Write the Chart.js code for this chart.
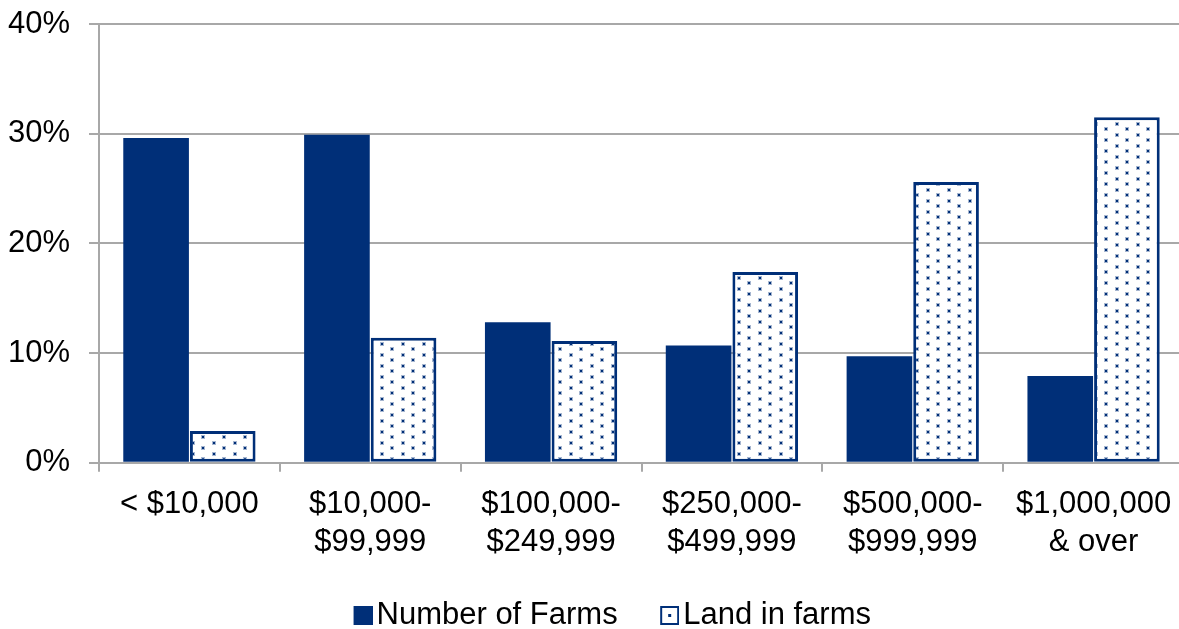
<!DOCTYPE html>
<html>
<head>
<meta charset="utf-8">
<script src="https://cdn.jsdelivr.net/npm/chart.js@4"></script>
<style>
  html, body { margin: 0; padding: 0; background: #fff; overflow: hidden; }
  #wrap { width: 1179px; height: 629px; overflow: hidden; }
  canvas { display: block; }
</style>
</head>
<body>
<div id="wrap"><canvas id="c" width="1184" height="629"></canvas></div>
<script>
const categories = [
  ['< $10,000'],
  ['$10,000-', '$99,999'],
  ['$100,000-', '$249,999'],
  ['$250,000-', '$499,999'],
  ['$500,000-', '$999,999'],
  ['$1,000,000', '& over']
];
const numberOfFarms = [29.6, 29.9, 12.8, 10.7, 9.7, 7.9];
const landInFarms = [2.9, 11.4, 11.1, 17.4, 25.6, 31.5];
const seriesNames = ['Number of Farms', 'Land in farms'];
const yTicks = [0, 10, 20, 30, 40];

const NAVY = '#002f78';
const GRID = '#a8a8a8';
const FONT = '"Liberation Sans", Arial, sans-serif';

function makeDotPattern() {
  const t = document.createElement('canvas');
  t.width = 21; t.height = 11;
  const g = t.getContext('2d');
  g.fillStyle = '#ffffff';
  g.fillRect(0, 0, 21, 11);
  g.fillStyle = 'rgba(0,47,120,0.35)';
  g.fillRect(2, 1, 4, 4);
  g.fillRect(12, 6, 4, 4);
  g.fillStyle = NAVY;
  g.fillRect(3, 2, 2, 2);
  g.fillRect(13, 7, 2, 2);
  return g.createPattern(t, 'repeat');
}
const dots = makeDotPattern();

// legend swatches: 19px box placed at the right end of a wider transparent image
function makeSwatch(kind) {
  const c = document.createElement('canvas');
  c.width = 41; c.height = 19;
  const g = c.getContext('2d');
  const x0 = 22;
  if (kind === 'solid') {
    g.fillStyle = NAVY;
    g.fillRect(x0, 0, 19, 19);
  } else {
    g.fillStyle = '#fff';
    g.fillRect(x0, 0, 19, 19);
    g.strokeStyle = NAVY;
    g.lineWidth = 2;
    g.strokeRect(x0 + 1, 1, 17, 17);
    g.fillStyle = NAVY;
    g.fillRect(x0 + 8, 8, 3, 3);
  }
  return c;
}
const swatches = [makeSwatch('solid'), makeSwatch('dots')];

const legendShift = {
  id: 'legendShift',
  beforeDraw(chart) {
    const lg = chart.legend;
    if (!lg || lg._shifted) return;
    const dx = 11, dy = 12;
    lg.left += dx; lg.right += dx; lg.top += dy; lg.bottom += dy;
    lg._shifted = true;
  }
};

new Chart(document.getElementById('c'), {
  type: 'bar',
  data: {
    labels: categories,
    datasets: [
      {
        label: seriesNames[0],
        data: numberOfFarms,
        backgroundColor: NAVY,
        borderWidth: 0,
        categoryPercentage: 0.737,
        barPercentage: 0.985
      },
      {
        label: seriesNames[1],
        data: landInFarms,
        backgroundColor: dots,
        borderColor: NAVY,
        borderWidth: 3,
        borderSkipped: false,
        categoryPercentage: 0.737,
        barPercentage: 0.985
      }
    ]
  },
  plugins: [legendShift],
  options: {
    responsive: false,
    animation: false,
    devicePixelRatio: 1,
    layout: { padding: { top: 24, right: 0, left: 8, bottom: 0 } },
    plugins: {
      tooltip: { enabled: false },
      legend: {
        position: 'bottom',
        align: 'center',
        labels: {
          color: '#000',
          font: { family: FONT, size: 31 },
          usePointStyle: true,
          pointStyleWidth: 18,
          boxHeight: 19,
          padding: 32,
          generateLabels(chart) {
            const items = Chart.defaults.plugins.legend.labels.generateLabels(chart);
            items.forEach((it, i) => { it.pointStyle = swatches[i]; });
            return items;
          }
        }
      }
    },
    scales: {
      x: {
        offset: true,
        afterFit(scale) { scale.paddingLeft = 0; scale.paddingRight = 0; scale.height -= 20; },
        grid: {
          offset: true,
          display: true,
          drawOnChartArea: false,
          drawTicks: true,
          tickLength: 9,
          color: GRID,
          lineWidth: 2
        },
        border: { display: true, color: GRID, width: 2 },
        ticks: {
          color: '#000',
          font: { family: FONT, size: 31, lineHeight: 1.23 },
          padding: 14,
          maxRotation: 0,
          autoSkip: false
        }
      },
      y: {
        min: 0,
        max: 40,
        afterBuildTicks: (scale) => { scale.ticks = yTicks.map(v => ({ value: v })); },
        afterFit(scale) { scale.width = 91; scale.paddingTop = 0; scale.paddingBottom = 0; },
        grid: {
          color: GRID,
          lineWidth: 2,
          tickLength: 10,
          drawTicks: true
        },
        border: { display: true, color: GRID, width: 2 },
        ticks: {
          color: '#000',
          font: { family: FONT, size: 31 },
          padding: 19,
          callback: (v) => v + '%'
        }
      }
    }
  }
});
</script>
</body>
</html>
